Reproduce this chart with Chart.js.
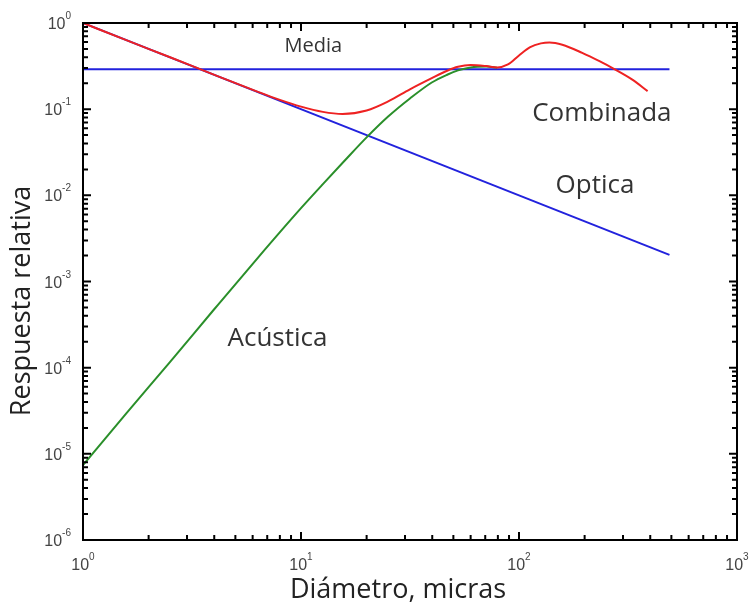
<!DOCTYPE html>
<html>
<head>
<meta charset="utf-8">
<script src="https://cdn.jsdelivr.net/npm/chart.js@4.4.1/dist/chart.umd.min.js"></script>
<style>
  html, body { margin: 0; padding: 0; background: #fff; }
  #wrap { width: 753px; height: 613px; }
</style>
</head>
<body>
<div id="wrap"><canvas id="respChart" width="753" height="613"></canvas></div>
<script>
// Curves (diameter in microns, relative response)
const diamCombinada = [1, 1.58, 2.51, 3.98, 6.31, 7.94, 10, 12.6, 15.5, 20, 25.1, 31.6, 39.8, 46.8, 52.5, 60, 70.8, 79.4, 89, 100, 112, 126, 138, 158, 195, 234, 275, 331, 389];
const respCombinada = [1.0, 0.632, 0.40, 0.252, 0.16, 0.129, 0.107, 0.093, 0.088, 0.0966, 0.123, 0.17, 0.229, 0.279, 0.31, 0.325, 0.316, 0.305, 0.33, 0.42, 0.52, 0.58, 0.595, 0.56, 0.45, 0.36, 0.29, 0.22, 0.162];

const diamAcustica = [1, 1.58, 2.51, 3.98, 6.31, 10, 12.6, 15.8, 20, 25.1, 31.6, 39.8, 46.8, 52.5, 60, 70.8, 79.4];
const respAcustica = [7.4e-6, 2.95e-5, 1.17e-4, 4.7e-4, 1.86e-3, 7.1e-3, 1.35e-2, 2.5e-2, 4.7e-2, 8.2e-2, 0.133, 0.204, 0.251, 0.282, 0.305, 0.312, 0.303];

const diamOptica = [1, 490];
const respOptica = [1, 0.00204];

const diamMedia = [1, 490];
const respMedia = [0.29, 0.29];

const xTickExps = [0, 1, 2, 3];
const yTickExps = [0, -1, -2, -3, -4, -5, -6];

function toPoints(xs, ys) {
  return xs.map((x, i) => ({ x: x, y: ys[i] }));
}

// Frame, matlab-like inward ticks, tick labels and text annotations
const decorPlugin = {
  id: "decor",
  afterDraw(chart) {
    const g = chart.ctx;
    const a = chart.chartArea;
    const xs = chart.scales.x;
    const ys = chart.scales.y;
    const left = a.left, right = a.right, top = a.top, bottom = a.bottom;
    g.save();

    // minor and major ticks pointing inward on all four sides
    g.strokeStyle = "#000";
    g.lineWidth = 2;
    const xVals = [];
    for (let k = 0; k < 3; k++) {
      for (let m = 1; m <= 9; m++) xVals.push(m * Math.pow(10, k));
    }
    const yVals = [];
    for (let k = -6; k < 0; k++) {
      for (let m = 1; m <= 9; m++) yVals.push(m * Math.pow(10, k));
    }
    xVals.forEach((v, i) => {
      const px = xs.getPixelForValue(v);
      const len = i % 9 === 0 ? 8 : 5;
      g.beginPath();
      g.moveTo(px, bottom);
      g.lineTo(px, bottom - len);
      g.moveTo(px, top);
      g.lineTo(px, top + len);
      g.stroke();
    });
    yVals.forEach((v, i) => {
      const py = ys.getPixelForValue(v);
      const len = i % 9 === 0 ? 8 : 5;
      g.beginPath();
      g.moveTo(left, py);
      g.lineTo(left + len, py);
      g.moveTo(right, py);
      g.lineTo(right - len, py);
      g.stroke();
    });

    // frame
    g.strokeRect(left, top, right - left, bottom - top);

    // tick labels: 10 with superscript exponent
    g.fillStyle = "#444";
    const baseFont = "16px 'Liberation Sans', Arial, sans-serif";
    const supFont = "10px 'Liberation Sans', Arial, sans-serif";
    g.textBaseline = "alphabetic";
    g.textAlign = "left";
    yTickExps.forEach((e) => {
      const py = ys.getPixelForValue(Math.pow(10, e));
      const exp = e === 0 ? "0" : "-" + Math.abs(e);
      g.font = supFont;
      const ew = g.measureText(exp).width;
      g.font = baseFont;
      const bw = g.measureText("10").width;
      const r = left - 12;
      g.fillText("10", r - ew - bw, py + 6);
      g.font = supFont;
      g.fillText(exp, r - ew, py - 4);
    });
    xTickExps.forEach((e) => {
      const px = xs.getPixelForValue(Math.pow(10, e));
      const exp = String(e);
      g.font = baseFont;
      const bw = g.measureText("10").width;
      g.font = supFont;
      const ew = g.measureText(exp).width;
      const l = px - (bw + ew) / 2;
      g.font = baseFont;
      g.fillText("10", l, bottom + 30);
      g.font = supFont;
      g.fillText(exp, l + bw, bottom + 20);
    });

    // axis titles
    g.fillStyle = "#222";
    g.font = "27px 'Open Sans', sans-serif";
    g.textAlign = "center";
    g.textBaseline = "middle";
    g.fillText("Diámetro, micras", 398, 590);
    g.save();
    g.translate(22, 301);
    g.rotate(-Math.PI / 2);
    g.fillText("Respuesta relativa", 0, 0);
    g.restore();

    // curve annotations (placed in data coordinates)
    g.fillStyle = "#333";
    g.font = "20px 'Open Sans', sans-serif";
    g.fillText("Media", xs.getPixelForValue(11.4), ys.getPixelForValue(0.53));
    g.font = "26px 'Open Sans', sans-serif";
    g.fillText("Combinada", xs.getPixelForValue(240), ys.getPixelForValue(0.088));
    g.fillText("Optica", xs.getPixelForValue(223), ys.getPixelForValue(0.0129));
    g.fillText("Acústica", xs.getPixelForValue(7.8), ys.getPixelForValue(2.2e-4));

    g.restore();
  },
};

new Chart(document.getElementById("respChart"), {
  type: "line",
  data: {
    datasets: [
      {
        label: "Combinada",
        data: toPoints(diamCombinada, respCombinada),
        borderColor: "#ee2222",
        borderWidth: 2,
        cubicInterpolationMode: "monotone",
        pointRadius: 0,
      },
      {
        label: "Acústica",
        data: toPoints(diamAcustica, respAcustica),
        borderColor: "#2a8f2a",
        borderWidth: 2,
        cubicInterpolationMode: "monotone",
        pointRadius: 0,
      },
      {
        label: "Optica",
        data: toPoints(diamOptica, respOptica),
        borderColor: "#2222dd",
        borderWidth: 2,
        pointRadius: 0,
      },
      {
        label: "Media",
        data: toPoints(diamMedia, respMedia),
        borderColor: "#2222dd",
        borderWidth: 2,
        pointRadius: 0,
      },
    ],
  },
  options: {
    responsive: false,
    animation: false,
    layout: { padding: { left: 83, top: 23, right: 16, bottom: 73 } },
    plugins: {
      legend: { display: false },
      tooltip: { enabled: false },
    },
    scales: {
      x: {
        type: "logarithmic",
        min: 1,
        max: 1000,
        grid: { display: false },
        border: { display: false },
        ticks: { display: false },
        afterFit: (s) => { s.height = 0; },
      },
      y: {
        type: "logarithmic",
        min: 1e-6,
        max: 1,
        grid: { display: false },
        border: { display: false },
        ticks: { display: false },
        afterFit: (s) => { s.width = 0; },
      },
    },
  },
  plugins: [decorPlugin],
});
</script>
</body>
</html>
